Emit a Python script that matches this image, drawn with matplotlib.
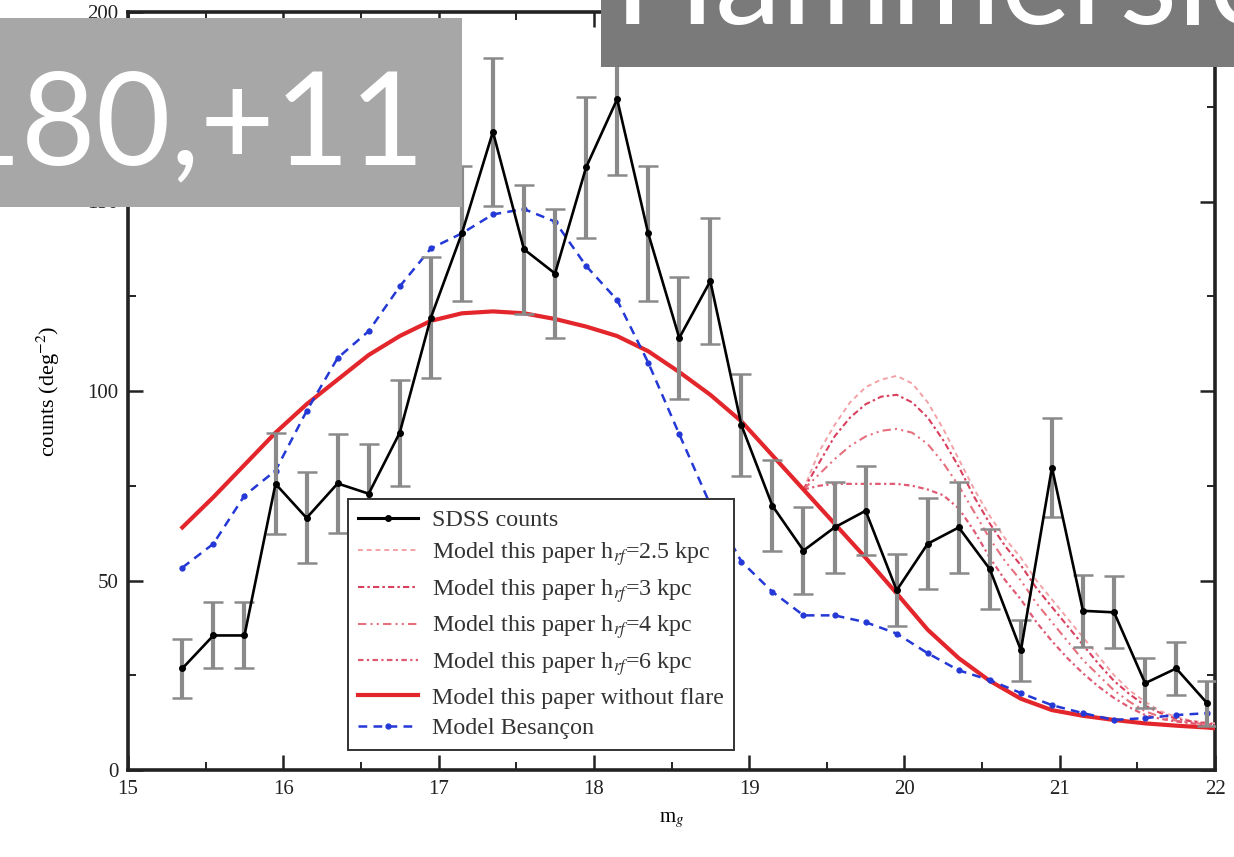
import matplotlib
matplotlib.use("Agg")
import matplotlib.pyplot as plt
from matplotlib.lines import Line2D
from matplotlib.patches import Rectangle
import numpy as np

# ---------------- data ----------------
sdss_mag = [15.35, 15.55, 15.75, 15.95, 16.15, 16.35, 16.55, 16.75, 16.95, 17.15,
            17.35, 17.55, 17.75, 17.95, 18.15, 18.35, 18.55, 18.75, 18.95, 19.15,
            19.35, 19.55, 19.75, 19.95, 20.15, 20.35, 20.55, 20.75, 20.95, 21.15,
            21.35, 21.55, 21.75, 21.95]
sdss_counts = [26.8, 35.5, 35.5, 75.5, 66.5, 75.6, 72.9, 89.0, 119.3, 141.6,
               168.4, 137.4, 131.0, 159.0, 177.0, 141.6, 114.0, 129.0, 91.0, 69.7,
               57.9, 64.0, 68.4, 47.4, 59.7, 64.0, 53.0, 31.6, 79.8, 42.0,
               41.6, 22.9, 26.8, 17.6]
sdss_err = [7.8, 8.7, 8.7, 13.3, 12.0, 13.0, 13.0, 14.0, 16.0, 17.8,
            19.5, 17.0, 17.0, 18.6, 20.0, 17.8, 16.0, 16.7, 13.5, 12.0,
            11.5, 12.0, 11.7, 9.5, 12.0, 12.0, 10.5, 8.0, 13.0, 9.5,
            9.5, 6.6, 7.0, 6.0]

bes_mag = sdss_mag
bes_counts = [53.4, 59.7, 72.4, 79.0, 94.7, 108.7, 115.8, 127.6, 137.6, 141.6,
              146.6, 148.0, 144.7, 133.0, 124.0, 107.5, 88.6, 70.0, 55.0, 47.0,
              40.8, 40.8, 39.0, 36.0, 30.8, 26.3, 23.7, 20.3, 17.1, 15.0,
              13.2, 13.7, 14.5, 15.0]

noflare_mag = [15.35, 15.55, 15.75, 15.95, 16.15, 16.35, 16.55, 16.75, 16.95, 17.15,
               17.35, 17.55, 17.75, 17.95, 18.15, 18.35, 18.55, 18.75, 18.95, 19.15,
               19.35, 19.55, 19.75, 19.95, 20.15, 20.35, 20.55, 20.75, 20.95, 21.15,
               21.35, 21.55, 21.75, 21.95, 22.0]
noflare_counts = [64.0, 72.0, 80.5, 89.0, 96.5, 103.0, 109.5, 114.5, 118.5, 120.5,
                  121.0, 120.5, 119.0, 117.0, 114.5, 110.5, 105.0, 99.0, 92.0, 83.0,
                  74.0, 65.0, 56.0, 46.6, 37.0, 29.5, 23.5, 18.8, 15.8, 14.3,
                  13.2, 12.3, 11.7, 11.2, 11.0]

flare_mag = [19.35, 19.45, 19.55, 19.65, 19.75, 19.85, 19.95, 20.05, 20.15, 20.25,
             20.35, 20.45, 20.55, 20.65, 20.75, 20.85, 20.95, 21.05, 21.15, 21.25,
             21.35, 21.45, 21.55, 21.65, 21.75, 21.85, 21.95, 22.0]
flare_25 = [74, 84, 91, 97, 101, 103, 104, 102, 97, 90,
            82, 74, 67, 61, 56, 50, 45, 40, 35, 30,
            25, 21, 18, 15.5, 14, 13, 12.5, 12.3]
flare_3 = [74, 81, 88, 93, 96.5, 98.5, 99, 97, 93, 87,
           80, 72, 65, 59, 54, 48, 43, 38, 33, 28,
           23.5, 20, 17, 15, 13.5, 12.8, 12.3, 12]
flare_4 = [74, 78, 82, 85.5, 88, 89.5, 90, 89, 86, 81,
           75, 68, 61, 55, 50, 44, 39, 34, 29, 25,
           21, 18, 15.5, 14, 13, 12.5, 12, 11.8]
flare_6 = [74, 75, 75.5, 75.5, 75.5, 75.5, 75.5, 75, 74, 72.5,
           69, 63, 56, 50, 45, 39, 34, 29.5, 25.5, 22,
           19, 16.5, 14.5, 13.5, 12.8, 12.3, 12, 11.8]

x_ticks = [15, 16, 17, 18, 19, 20, 21, 22]
y_ticks = [0, 50, 100, 150, 200]

legend_labels = ["SDSS counts",
                 r"Model this paper h$_{rf}$=2.5 kpc",
                 r"Model this paper h$_{rf}$=3 kpc",
                 r"Model this paper h$_{rf}$=4 kpc",
                 r"Model this paper h$_{rf}$=6 kpc",
                 "Model this paper without flare",
                 "Model Besançon"]

overlay_left = "180,+11"
overlay_right = "Hammersley"

# ---------------- style ----------------
plt.rcParams['font.family'] = ['Liberation Serif', 'DejaVu Serif']
plt.rcParams['mathtext.fontset'] = 'stix'

W, H = 1234, 857
fig = plt.figure(figsize=(W / 100, H / 100), dpi=100)
ax = fig.add_axes([128 / W, 1 - 770 / H, (1215 - 128) / W, (770 - 12) / H])

red = '#e3262b'
blue = '#2438d6'

l_a, = ax.plot(flare_mag, flare_25, color='#f2a2a6', lw=1.4, dashes=(2.5, 2.0), zorder=3)
l_b, = ax.plot(flare_mag, flare_3, color='#d8405e', lw=1.5, dashes=(3, 1.5, 1.2, 1.5), zorder=3)
l_c, = ax.plot(flare_mag, flare_4, color='#e6707e', lw=1.5, dashes=(4, 2, 1, 2, 1, 2), zorder=3)
l_d, = ax.plot(flare_mag, flare_6, color='#e05a74', lw=1.6, dashes=(2.5, 1.5, 1, 1.5), zorder=3)

l_red, = ax.plot(noflare_mag, noflare_counts, color=red, lw=3.0, zorder=4)
l_blue, = ax.plot(bes_mag, bes_counts, color=blue, lw=1.8, dashes=(3.5, 2.5),
                  marker='o', markersize=3.5, zorder=4)

eb = ax.errorbar(sdss_mag, sdss_counts, yerr=sdss_err, fmt='none',
                 ecolor='#8a8a8a', elinewidth=3.0, capsize=7, capthick=1.8, zorder=5)
for cl in eb[1]:
    cl.set_color('#3a3a3a')
l_black, = ax.plot(sdss_mag, sdss_counts, color='black', lw=1.9, marker='o',
                   markersize=4, zorder=6)

ax.set_xlim(15, 22)
ax.set_ylim(0, 200)
ax.set_xticks(x_ticks)
ax.set_yticks(y_ticks)
ax.set_xticks(np.arange(15.5, 22, 1.0), minor=True)
ax.set_yticks([25, 75, 125, 175], minor=True)
ax.tick_params(which='both', direction='in', top=True, right=True, labelsize=15,
               colors='#222222')
ax.tick_params(which='major', length=11, width=1.8, pad=7)
ax.tick_params(which='minor', length=6, width=1.4)
for s in ax.spines.values():
    s.set_linewidth(2.6)
    s.set_color('#222222')

ax.set_xlabel(r"m$_g$", fontsize=15, labelpad=8)
ax.set_ylabel(r"counts (deg$^{-2}$)", fontsize=16, labelpad=18)

h_sdss = Line2D([], [], color='black', lw=2.2, marker='o', markersize=4,
                markevery=[0, -1])
h_blue = Line2D([], [], color=blue, lw=1.8, dashes=(3.5, 2.5), marker='o',
                markersize=3.5, markevery=[0, -1])
handles = [h_sdss, l_a, l_b, l_c, l_d, l_red, h_blue]
leg = ax.legend(handles, legend_labels, loc='lower left',
                bbox_to_anchor=(0.202, 0.026), fontsize=17.3, frameon=True,
                fancybox=False, edgecolor='#333333', framealpha=1,
                handlelength=2.5, handletextpad=0.55, labelspacing=0.37,
                borderpad=0.45, borderaxespad=0)
leg.get_frame().set_linewidth(1.4)
for t in leg.get_texts():
    t.set_color('#333333')

# ---------------- overlay boxes ----------------
fig.add_artist(Rectangle((0, 1 - 207 / H), 462 / W, (207 - 18) / H,
                         transform=fig.transFigure, facecolor='#a7a7a7',
                         edgecolor='none', zorder=10))
fig.text(425 / W, 1 - 164 / H, overlay_left, color='white', fontsize=93,
         family='Lato', ha='right', va='baseline', zorder=11)

fig.add_artist(Rectangle((601 / W, 1 - 67 / H), (W - 601) / W, 67 / H,
                         transform=fig.transFigure, facecolor='#7a7a7a',
                         edgecolor='none', zorder=10))
fig.text(614 / W, 1 - 24 / H, overlay_right, color='white', fontsize=96,
         family='Lato', ha='left', va='baseline', zorder=11)

fig.savefig("out.png", dpi=100)
